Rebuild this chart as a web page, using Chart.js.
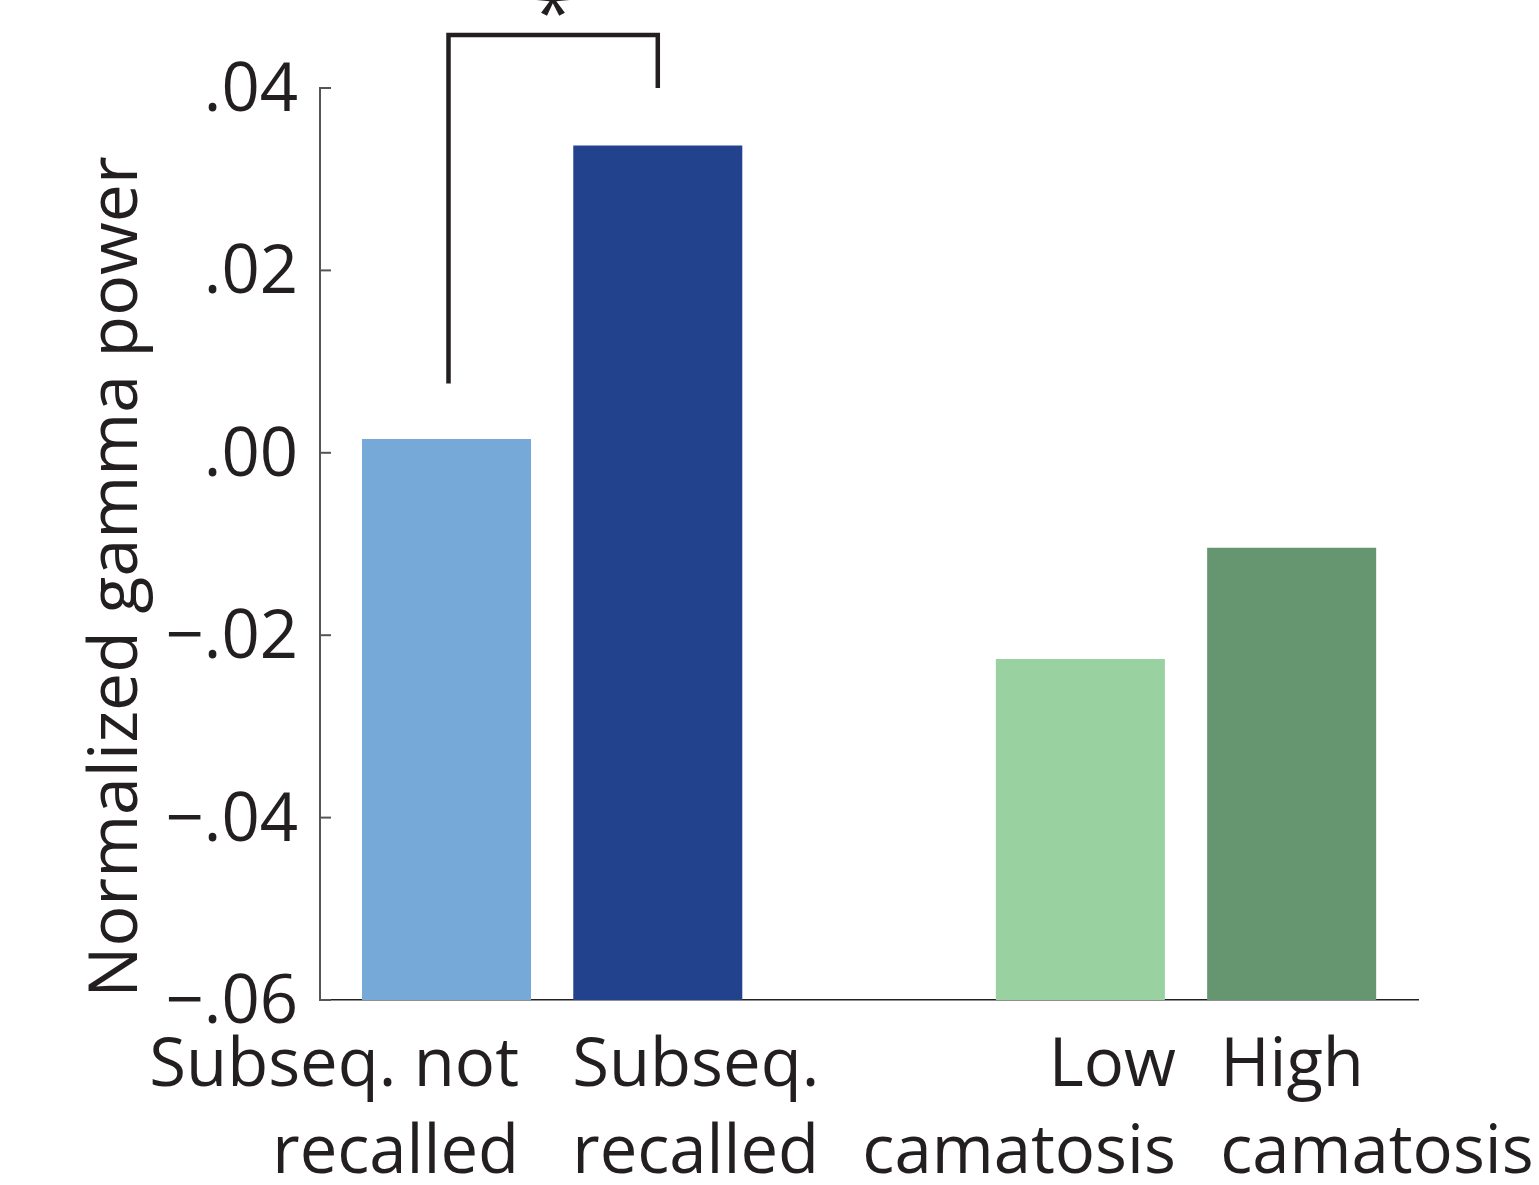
<!DOCTYPE html>
<html>
<head>
<meta charset="utf-8">
<script src="https://cdn.jsdelivr.net/npm/chart.js@4.4.1/dist/chart.umd.min.js"></script>
<style>
    html, body { margin: 0; padding: 0; background: #fff; }
    #wrap { width: 1539px; height: 1185px; position: relative; }
</style>
</head>
<body>
<div id="wrap"><canvas id="gamma-chart"></canvas></div>
<script>
// Bar groups: two memory conditions, a gap, then two camatosis levels.
const slotLabels = [['Subseq. not', 'recalled'], ['Subseq.', 'recalled'], ['Low', 'camatosis'], ['High', 'camatosis']];
const slotPositions = [1, 2, 4, 5];
const gammaPower = [0.0015, 0.0337, -0.0226, -0.0104];
const barColors = ['#76a8d8', '#23428e', '#9ad1a0', '#66966f'];

// Y axis ticks.
const yTicks = [-0.06, -0.04, -0.02, 0, 0.02, 0.04];

// Significance bracket between the first two bars.
const sigPair = [1, 2];
const sigTop = 0.0458;
const sigLegEnds = [0.0076, 0.04];

const INK = '#231f20';
const FONT = "'Open Sans', sans-serif";

// label placement: which side of the bar the text is pinned to, and a small nudge in px
const labelAlign = ['right', 'left', 'right', 'left'];
const labelNudge = [-12, -1, 11, 13];

function formatTick(v) {
    const r = Math.round(v * 100) / 100;
    const s = Math.abs(r).toFixed(2).replace(/^0/, '');
    return r < 0 ? '\u2212' + s : s;
}

const annotatePlugin = {
    id: 'annotate',
    afterDraw(chart) {
        const { ctx, chartArea } = chart;
        const xs = chart.scales.x;
        const ys = chart.scales.y;
        const bars = chart.getDatasetMeta(0).data;

        ctx.save();

        // inward tick marks on the y axis
        ctx.strokeStyle = '#555';
        ctx.lineWidth = 2;
        yTicks.forEach((t) => {
            const py = ys.getPixelForValue(t);
            ctx.beginPath();
            ctx.moveTo(chartArea.left, py);
            ctx.lineTo(chartArea.left + 11, py);
            ctx.stroke();
        });

        // category labels under the bars, two lines each
        ctx.fillStyle = INK;
        ctx.font = `67px ${FONT}`;
        ctx.textBaseline = 'alphabetic';
        slotLabels.forEach((lines, i) => {
            const bar = bars[i];
            const half = bar.width / 2;
            let ax;
            if (labelAlign[i] === 'right') {
                ax = bar.x + half + labelNudge[i];
            } else {
                ax = bar.x - half + labelNudge[i];
            }
            ctx.textAlign = labelAlign[i];
            ctx.fillText(lines[0], ax, chartArea.bottom + 86);
            ctx.fillText(lines[1], ax, chartArea.bottom + 173);
        });

        // y axis title, rotated
        ctx.save();
        ctx.translate(137, 577);
        ctx.rotate(-Math.PI / 2);
        ctx.textAlign = 'center';
        ctx.font = `68px ${FONT}`;
        ctx.fillText('Normalized gamma power', 0, 0);
        ctx.restore();

        // significance bracket
        const x1 = xs.getPixelForValue(sigPair[0]) + 2;
        const x2 = xs.getPixelForValue(sigPair[1]);
        const yTop = ys.getPixelForValue(sigTop);
        ctx.strokeStyle = INK;
        ctx.lineWidth = 4.5;
        ctx.lineCap = 'butt';
        ctx.beginPath();
        ctx.moveTo(x1, ys.getPixelForValue(sigLegEnds[0]));
        ctx.lineTo(x1, yTop);
        ctx.lineTo(x2, yTop);
        ctx.lineTo(x2, ys.getPixelForValue(sigLegEnds[1]));
        ctx.stroke();

        ctx.font = `72px ${FONT}`;
        ctx.textAlign = 'center';
        const m = ctx.measureText('*');
        ctx.fillText('*', (x1 + x2) / 2, yTop - 19 - m.actualBoundingBoxDescent);

        ctx.restore();
    },
};

const ctx = document.getElementById('gamma-chart').getContext('2d');
new Chart(ctx, {
    type: 'bar',
    data: {
        datasets: [{
            data: slotPositions.map((p, i) => ({ x: p, y: gammaPower[i] })),
            backgroundColor: barColors,
            borderWidth: 0,
            base: -0.06,
            barPercentage: 0.8,
            categoryPercentage: 1,
        }],
    },
    options: {
        responsive: true,
        maintainAspectRatio: false,
        animation: false,
        events: [],
        layout: {
            padding: { top: 88, right: 121, left: 0, bottom: 0 },
        },
        plugins: {
            legend: { display: false },
            tooltip: { enabled: false },
        },
        scales: {
            x: {
                type: 'linear',
                min: 0.4013,
                max: 5.598,
                offset: false,
                afterBuildTicks: (scale) => {
                    scale.ticks = slotPositions.map(v => ({ value: v }));
                },
                afterFit: (scale) => { scale.height = 185; },
                grid: { display: false, drawTicks: false },
                border: { display: true, color: INK, width: 1.5 },
                ticks: { display: false },
            },
            y: {
                min: -0.06,
                max: 0.04,
                afterBuildTicks: (scale) => {
                    scale.ticks = yTicks.map(v => ({ value: v }));
                },
                afterFit: (scale) => { scale.width = 320; },
                grid: { display: false, drawTicks: false },
                border: { display: true, color: '#555', width: 2 },
                ticks: {
                    padding: 22,
                    labelOffset: 4,
                    color: INK,
                    font: { family: FONT, size: 67 },
                    callback: v => formatTick(v),
                },
            },
        },
    },
    plugins: [annotatePlugin],
});
</script>
</body>
</html>
